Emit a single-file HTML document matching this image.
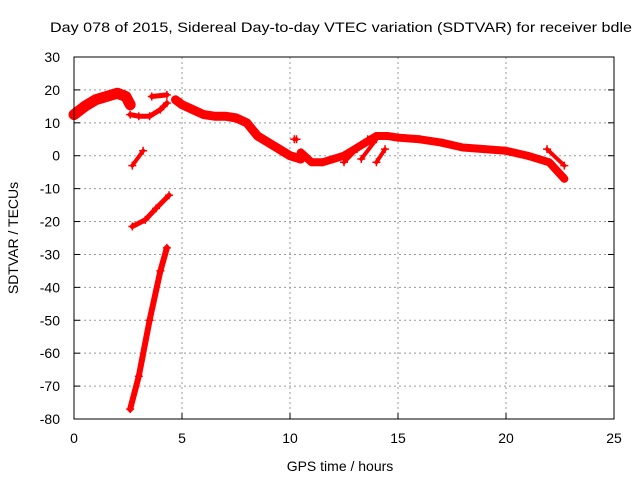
<!DOCTYPE html>
<html><head><meta charset="utf-8"><style>
body{margin:0;background:#fff;}
svg text{font-family:"Liberation Sans",sans-serif;font-size:14px;fill:#000;}
</style></head><body>
<svg id="chart" width="640" height="480" xmlns="http://www.w3.org/2000/svg">
<rect width="640" height="480" fill="#fff"/>
<text x="341" y="32" text-anchor="middle" textLength="582" lengthAdjust="spacingAndGlyphs">Day 078 of 2015, Sidereal Day-to-day VTEC variation (SDTVAR) for receiver bdle</text>
<text x="340" y="471" text-anchor="middle">GPS time / hours</text>
<text transform="translate(18,238) rotate(-90)" text-anchor="middle">SDTVAR / TECUs</text>
<g id="grid"></g><g id="marks"></g>
<rect x="74" y="57" width="540" height="362" fill="none" stroke="#000" stroke-width="1"/>
<g id="ticks"></g>
</svg>
<script>
const xTicks=[0,5,10,15,20,25];
const yTicks=[30,20,10,0,-10,-20,-30,-40,-50,-60,-70,-80];
const trackA=[[0,12.5],[0.5,15],[1,17],[1.5,18],[2,19],[2.4,18],[2.6,15.5]];
const trackB=[[2.6,12.5],[3,12],[3.5,12],[4,14],[4.3,16]];
const trackC=[[3.6,18],[4.3,18.5]];
const trackD=[[4.7,17],[5,15.5],[5.5,14],[6,12.5],[6.5,12],[7,12],[7.5,11.5],[8,10],[8.5,6],[9,4],[9.5,2],[10,0],[10.5,-1]];
const trackE=[[10.2,5],[10.3,5]];
const trackF=[[10.5,1],[11,-2],[11.5,-2],[12,-1],[12.5,0],[13,2],[13.5,4],[14,6],[14.5,6],[15,5.5],[16,5],[17,4],[18,2.5],[19,2],[20,1.5],[21,0],[22,-2],[22.7,-7]];
const trackG=[[21.9,2],[22.7,-3]];
const trackH=[[2.7,-3],[3.2,1.5]];
const trackI=[[2.7,-21.5],[3.3,-19.5],[3.8,-16],[4.4,-12]];
const trackJ=[[2.6,-77],[3,-67],[3.5,-50],[4,-35],[4.3,-28]];
const trackK=[[12.5,-2],[13.1,2],[13.6,5]];
const trackL=[[13.3,-1],[14,5]];
const trackM=[[14,-2],[14.4,2]];
const tracks=[trackA,trackB,trackC,trackD,trackE,trackF,trackG,trackH,trackI,trackJ,trackK,trackL,trackM];
const widths=[11,5,5,9,4,8,4,4,5,6,4,4,4];
const X=v=>74+v*540/25, Y=v=>57+(30-v)*362/110;
const NS="http://www.w3.org/2000/svg";
const g=document.getElementById('grid'),t=document.getElementById('ticks'),m=document.getElementById('marks');
function mk(tag,a,p){const e=document.createElementNS(NS,tag);for(const k in a)e.setAttribute(k,a[k]);p.appendChild(e);return e;}
xTicks.forEach(v=>{
 if(v>0&&v<25){const l=mk('line',{x1:X(v),x2:X(v),y1:57,y2:419,stroke:'#999','stroke-dasharray':'2,3'},g);
 
 }
 mk('line',{x1:X(v),x2:X(v),y1:419,y2:413,stroke:'#000'},t);
 const tx=mk('text',{x:X(v),y:443,'text-anchor':'middle'},t);tx.textContent=v;
 
 
});
yTicks.forEach(v=>{
 if(v<30&&v>-80){const l=mk('line',{x1:74,x2:614,y1:Y(v),y2:Y(v),stroke:'#999','stroke-dasharray':'2,3'},g);
 
 }
 mk('line',{x1:74,x2:80,y1:Y(v),y2:Y(v),stroke:'#000'},t);
 mk('line',{x1:614,x2:608,y1:Y(v),y2:Y(v),stroke:'#000'},t);
 const tx=mk('text',{x:60,y:Y(v)+5,'text-anchor':'end'},t);tx.textContent=v;
 
 
});
tracks.forEach((tr,i)=>{
 const p=mk('polyline',{points:tr.map(d=>X(d[0])+','+Y(d[1])).join(' '),fill:'none',stroke:'#f00','stroke-width':widths[i],'stroke-linejoin':'round','stroke-linecap':'round'},m);
 
 
 tr.forEach(d=>{
  const c=mk('path',{d:`M${X(d[0])-4},${Y(d[1])}h8M${X(d[0])},${Y(d[1])-4}v8`,stroke:'#f00','stroke-width':1.5},m);
  
  
 });
});
</script>
</body></html>
